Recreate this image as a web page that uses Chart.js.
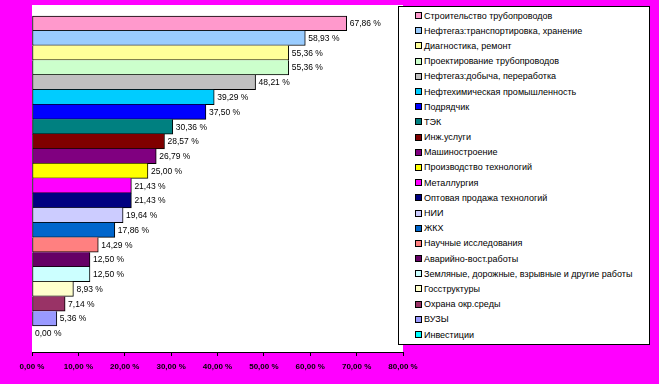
<!DOCTYPE html>
<html>
<head>
<meta charset="utf-8">
<script src="https://cdn.jsdelivr.net/npm/chart.js@4/dist/chart.umd.min.js"></script>
<style>
  html, body { margin: 0; padding: 0; background: #FF00FF; }
  #wrap { position: relative; width: 659px; height: 384px; }
  #legend {
    position: absolute; left: 398px; top: 6px; width: 250px; height: 336px;
    border: 1px solid #000; background: #fff;
    font: 9px "Liberation Sans", Arial, sans-serif; color: #000;
    padding-top: 1px;
  }
  .item { height: 15.19px; display: flex; align-items: center; white-space: nowrap; }
  .box { width: 5px; height: 5px; border: 1px solid #000; margin-left: 16px; margin-right: 2px; flex: none; }
</style>
</head>
<body>
<div id="wrap">
  <canvas id="chart" width="659" height="384"></canvas>
  <div id="legend"></div>
</div>
<script>
// categories, top to bottom
const categories = [
  "Строительство трубопроводов",
  "Нефтегаз:транспортировка, хранение",
  "Диагностика, ремонт",
  "Проектирование трубопроводов",
  "Нефтегаз:добыча, переработка",
  "Нефтехимическая промышленность",
  "Подрядчик",
  "ТЭК",
  "Инж.услуги",
  "Машиностроение",
  "Производство технологий",
  "Металлургия",
  "Оптовая продажа технологий",
  "НИИ",
  "ЖКХ",
  "Научные исследования",
  "Аварийно-вост.работы",
  "Земляные, дорожные, взрывные и другие работы",
  "Госструктуры",
  "Охрана окр.среды",
  "ВУЗЫ",
  "Инвестиции"
];

const values = [67.86, 58.93, 55.36, 55.36, 48.21, 39.29, 37.50, 30.36, 28.57, 26.79, 25.00,
                21.43, 21.43, 19.64, 17.86, 14.29, 12.50, 12.50, 8.93, 7.14, 5.36, 0.00];

const colors = ["#FF99CC", "#99CCFF", "#FFFF99", "#CCFFCC", "#C0C0C0", "#00CCFF", "#0000FF",
                "#008080", "#800000", "#800080", "#FFFF00", "#FF00FF", "#000080", "#CCCCFF",
                "#0066CC", "#FF8080", "#660066", "#CCFFFF", "#FFFFCC", "#993366", "#9999FF",
                "#00FFFF"];

const tickLabels = ["0,00 %", "10,00 %", "20,00 %", "30,00 %", "40,00 %",
                    "50,00 %", "60,00 %", "70,00 %", "80,00 %"];

const fmt = v => v.toFixed(2).replace(".", ",") + " %";

// html legend
const legendBox = document.getElementById("legend");
categories.forEach((name, i) => {
  const row = document.createElement("div");
  row.className = "item";
  row.innerHTML = `<span class="box" style="background:${colors[i]}"></span><span>${name}</span>`;
  legendBox.appendChild(row);
});

// white plot area behind the bars
const plotBg = {
  id: "plotBg",
  beforeDraw(chart) {
    const { ctx, chartArea: a } = chart;
    ctx.save();
    ctx.fillStyle = "#fff";
    ctx.fillRect(a.left, a.top, a.right - a.left, a.bottom - a.top);
    ctx.restore();
  }
};

// value labels at the end of each bar
const valueLabels = {
  id: "valueLabels",
  afterDatasetsDraw(chart) {
    const { ctx } = chart;
    const meta = chart.getDatasetMeta(0);
    ctx.save();
    ctx.font = '8.5px "Liberation Sans", Arial, sans-serif';
    ctx.fillStyle = "#000";
    ctx.textBaseline = "middle";
    meta.data.forEach((bar, i) => {
      ctx.fillText(fmt(values[i]), bar.x + 3, bar.y + 0.5);
    });
    ctx.restore();
  }
};

new Chart(document.getElementById("chart"), {
  type: "bar",
  data: {
    datasets: [{
      data: values.map((v, i) => ({ x: v, y: i })),
      backgroundColor: colors,
      borderColor: "#000",
      borderSkipped: false,
      borderWidth: c => ({ top: c.dataIndex === 0 ? 1 : 0, bottom: 1, left: 1, right: 1 }),
      barPercentage: 1,
      categoryPercentage: 1
    }]
  },
  options: {
    indexAxis: "y",
    responsive: false,
    animation: false,
    events: [],
    layout: { padding: { left: 32, top: 5, right: 256, bottom: 0 } },
    plugins: { legend: { display: false }, tooltip: { enabled: false } },
    scales: {
      y: {
        type: "linear",
        reverse: true,
        offset: false,
        bounds: "data",
        grace: 0,
        min: -1.245,
        max: 22.265,
        display: false
      },
      x: {
        min: 0,
        max: 80,
        grid: { drawOnChartArea: false, drawTicks: true, tickLength: 4, color: "#000" },
        border: { color: "#000", width: 1 },
        ticks: {
          stepSize: 10,
          padding: 6,
          color: "#000",
          maxRotation: 0,
          font: { family: '"Liberation Sans", Arial, sans-serif', size: 8, weight: "bold" },
          callback: (v, i) => tickLabels[i]
        },
        afterFit(scale) { scale.height = 32; }
      }
    }
  },
  plugins: [plotBg, valueLabels]
});
</script>
</body>
</html>
